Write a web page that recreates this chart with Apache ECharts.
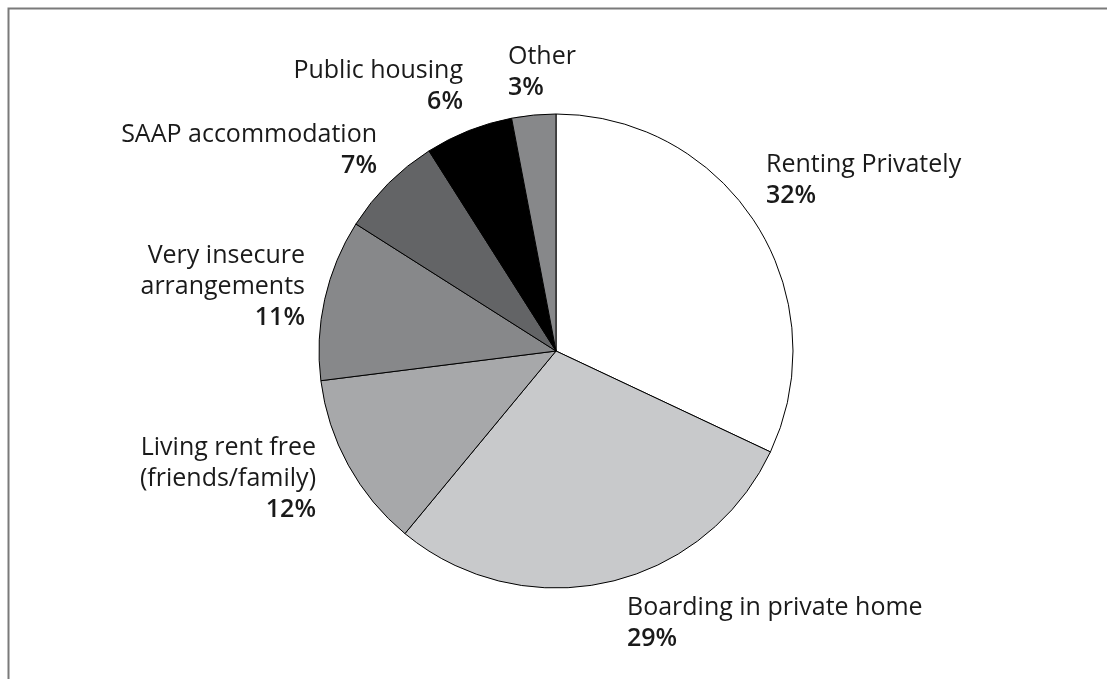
<!DOCTYPE html>
<html><head><meta charset="utf-8">
<script src="https://cdn.jsdelivr.net/npm/echarts@6/dist/echarts.min.js"></script>
<style>html,body{margin:0;padding:0;background:#fff}#c{width:1107px;height:679px}</style>
</head><body><div id="c"></div>
<script>
const categories = ["Renting Privately","Boarding in private home","Living rent free\n(friends/family)","Very insecure\narrangements","SAAP accommodation","Public housing","Other"];
const values = [32, 29, 12, 11, 7, 6, 3];
const colors = ["#ffffff","#c8c9cb","#a7a8aa","#87888a","#636466","#000000","#87888a"];
// label anchor positions (style only)
const labelPos = [
  {x:766, y:149, align:'left'},
  {x:627, y:592, align:'left'},
  {x:316, y:432, align:'right'},
  {x:305, y:240, align:'right'},
  {x:377, y:119, align:'right'},
  {x:463, y:55, align:'right'},
  {x:508, y:41, align:'left'}
];
const chart = echarts.init(document.getElementById('c'));
chart.setOption({
  animation:false,
  graphic:[{type:'rect', shape:{x:8.5,y:8.5,width:1300,height:900}, style:{fill:'none',stroke:'#7a7a7a',lineWidth:2}, silent:true}],
  series:[{
    type:'pie',
    center:[556,351],
    radius:[0,237],
    startAngle:90,
    clockwise:true,
    data: categories.map((c,i)=>({name:c,value:values[i],itemStyle:{color:colors[i]}})),
    itemStyle:{borderColor:'#000',borderWidth:1},
    label:{
      show:true,
      position:'outside',
      formatter:p=>'{n|'+p.name.split('\n').join('}\n{n|')+'}\n{p|'+p.value+'%}',
      rich:{
        n:{fontFamily:'Open Sans',fontSize:25,fontWeight:400,color:'#1a1a1a',lineHeight:31},
        p:{fontFamily:'Open Sans',fontSize:25,fontWeight:600,color:'#1a1a1a',lineHeight:31}
      }
    },
    labelLine:{show:false},
    labelLayout:function(params){
      const lp = labelPos[params.dataIndex];
      return {x:lp.x, y:lp.y, align:lp.align, verticalAlign:'top'};
    }
  }]
});
</script></body></html>
